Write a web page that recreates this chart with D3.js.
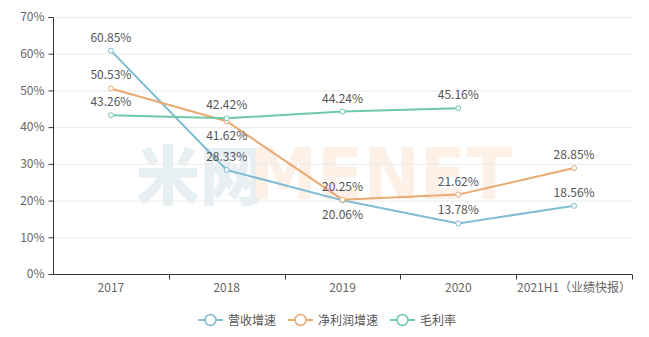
<!DOCTYPE html>
<html><head><meta charset="utf-8">
<script src="https://cdn.jsdelivr.net/npm/d3@7/dist/d3.min.js"></script>
<style>body{margin:0;background:#fff}svg{display:block;font-family:"Microsoft YaHei","Noto Sans CJK SC",sans-serif}</style>
</head><body><svg id="c" width="649" height="337"></svg>
<script>
const categories = ["2017","2018","2019","2020","2021H1（业绩快报）"];
const revenueGrowth = [60.85, 28.33, 20.06, 13.78, 18.56];
const profitGrowth = [50.53, 41.62, 20.25, 21.62, 28.85];
const grossMargin = [43.26, 42.42, 44.24, 45.16, null];
const yTicks = [0,10,20,30,40,50,60,70];
const seriesNames = ["营收增速","净利润增速","毛利率"];
const labelPos = [
  ["top","top","bottom","top","top"],
  ["top","bottom","top","top","top"],
  ["top","top","top","top","top"]
];
const colors = ["#80bcd4","#e9aa72","#6fcaa6"];

const svg = d3.select("#c");
const m = {l:53, r:17, t:17, b:63};
const W = 649, H = 337;
const x = d3.scaleBand().domain(categories).range([m.l, W-m.r]);
const y = d3.scaleLinear().domain([0,70]).range([H-m.b, m.t]);
const FONT = "Microsoft YaHei, Noto Sans CJK SC, sans-serif";

// watermark
const wm = svg.append("g");
wm.append("text").attr("x",136).attr("y",199).attr("font-size",64).attr("fill","#e8eff3").attr("font-family","Noto Sans CJK SC").attr("font-weight",900).text("米网");
wm.append("text").attr("x",250).attr("y",199).attr("font-size",72).attr("fill","#fdf0e6").attr("font-family","DejaVu Sans").attr("font-weight","bold").attr("textLength",262).attr("lengthAdjust","spacingAndGlyphs").text("MENET");

// grid
svg.append("g").selectAll("line").data(yTicks.slice(1)).join("line")
  .attr("x1",m.l).attr("x2",W-m.r).attr("y1",d=>y(d)+0.5).attr("y2",d=>y(d)+0.5)
  .attr("stroke","#ebebeb");

// y axis
const ya = svg.append("g").attr("transform",`translate(${m.l+0.5},0)`)
  .call(d3.axisLeft(y).tickValues(yTicks).tickFormat(d=>d+"%").tickSize(5).tickPadding(4));
ya.select(".domain").attr("stroke","#333").attr("d",`M-5,${y(70)+0.5}H0V${y(0)+0.5}`);
ya.selectAll(".tick line").attr("stroke","#333");
ya.selectAll("text").attr("fill","#666").attr("font-size",12).attr("font-family",FONT);

// x axis
const xa = svg.append("g").attr("transform",`translate(0,${y(0)+0.5})`)
  .call(d3.axisBottom(x).tickSize(0).tickPadding(9));
xa.select(".domain").attr("stroke","#333").attr("d",`M${m.l},0H${W-m.r}`);
xa.selectAll("text").attr("fill","#666").attr("font-size",12).attr("font-family",FONT);
const bounds = categories.map(c=>x(c)).concat([W-m.r]).slice(1);
xa.append("g").selectAll("line").data(bounds).join("line")
  .attr("x1",d=>Math.round(d)+0.5).attr("x2",d=>Math.round(d)+0.5).attr("y1",0).attr("y2",5).attr("stroke","#333");

const cx = c => x(c)+x.bandwidth()/2;
const all = [revenueGrowth, profitGrowth, grossMargin];
const line = d3.line().defined(d=>d.v!=null).x(d=>cx(d.c)).y(d=>y(d.v));
all.forEach((vals,i)=>{
  const pts = vals.map((v,j)=>({c:categories[j], v, pos:labelPos[i][j]}));
  svg.append("path").datum(pts).attr("d",line).attr("fill","none").attr("stroke",colors[i]).attr("stroke-width",2);
});
all.forEach((vals,i)=>{
  const pts = vals.map((v,j)=>({c:categories[j], v, pos:labelPos[i][j]})).filter(d=>d.v!=null);
  const g = svg.append("g");
  g.selectAll("circle").data(pts).join("circle").attr("cx",d=>cx(d.c)).attr("cy",d=>y(d.v)).attr("r",2.5)
    .attr("fill","#fff").attr("stroke",colors[i]).attr("stroke-width",1);
  g.selectAll("text").data(pts).join("text").attr("x",d=>cx(d.c))
    .attr("y",d=>d.pos==="top"? y(d.v)-9 : y(d.v)+19)
    .attr("text-anchor","middle").attr("font-size",12).attr("fill","#555").attr("font-family",FONT)
    .text(d=>d.v.toFixed(2)+"%");
});

// legend
const legX = [198, 288, 390];
const lg = svg.append("g");
seriesNames.forEach((n,i)=>{
  const g = lg.append("g").attr("transform",`translate(${legX[i]},320)`);
  g.append("line").attr("x1",0).attr("x2",25).attr("y1",0).attr("y2",0).attr("stroke",colors[i]).attr("stroke-width",2);
  g.append("circle").attr("cx",12.5).attr("cy",0).attr("r",5.5).attr("fill","#fff").attr("stroke",colors[i]).attr("stroke-width",1.5);
  g.append("text").attr("x",30).attr("y",4.5).attr("font-size",12).attr("fill","#555").attr("font-family",FONT).text(n);
});
</script></body></html>
